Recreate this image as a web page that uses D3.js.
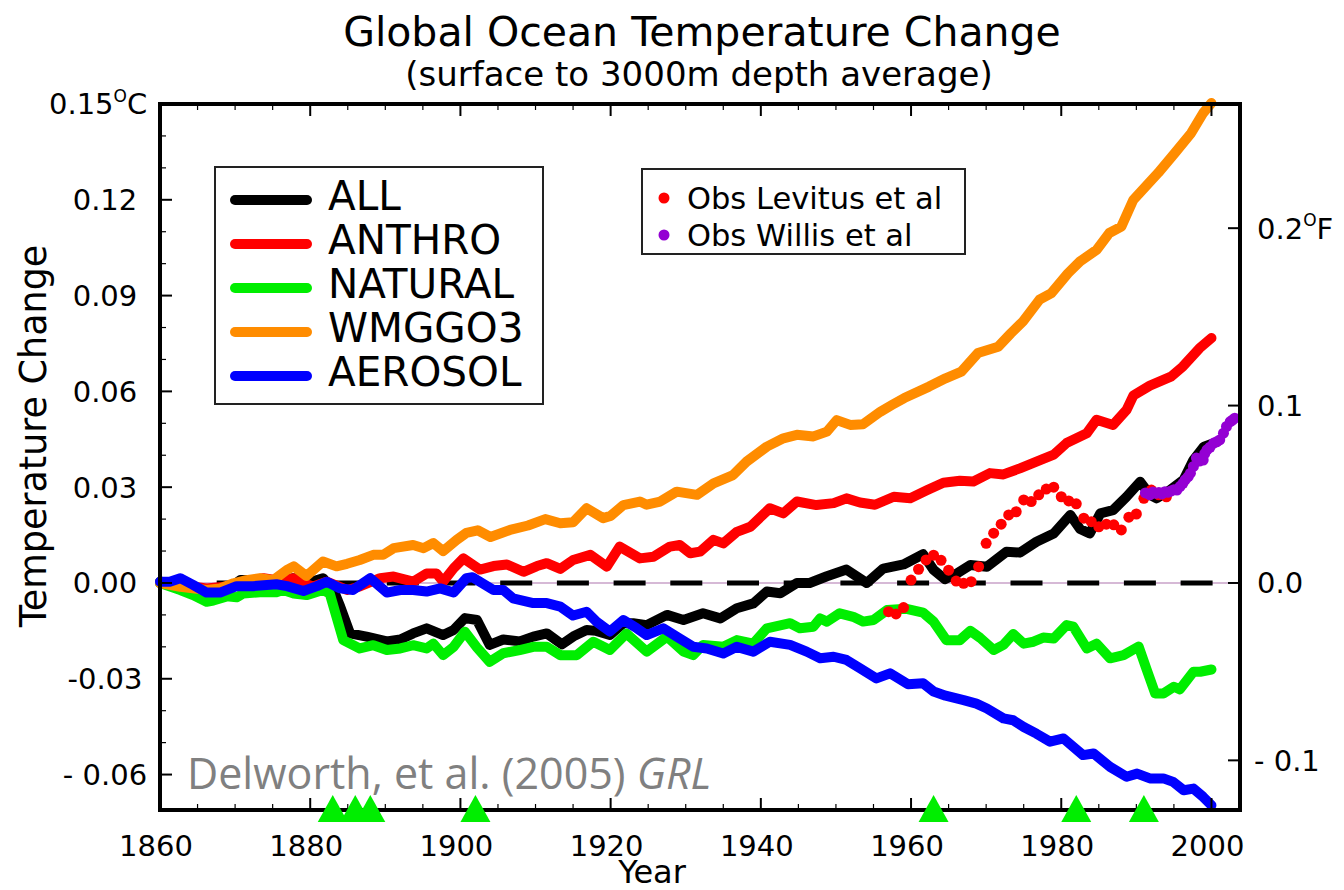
<!DOCTYPE html>
<html><head><meta charset="utf-8">
<script src="https://cdn.jsdelivr.net/npm/d3@7"></script>
<style>
body{margin:0;background:#fff;}
svg{display:block;font-family:"DejaVu Sans",sans-serif;}
</style>
</head><body>
<svg id="chart" width="1344" height="890"></svg>
<script>
// ---------------- data ----------------
const seriesNames = ["ALL", "ANTHRO", "NATURAL", "WMGGO3", "AEROSOL"];
const obsNames = ["Obs Levitus et al", "Obs Willis et al"];

const allValues = [[1860,0.0004],[1862.7,-0.0001],[1864.5,-0.0017],[1866.2,-0.0032],[1868.9,-0.0022],[1870.7,0.0009],[1872.4,0.0009],[1874.2,0.0004],[1876,0.0004],[1877.8,0.0015],[1879.5,-0.0001],[1881.7,0.0015],[1883.1,-0.0022],[1884,-0.0074],[1885.3,-0.0158],[1887.5,-0.0168],[1890.2,-0.0183],[1892,-0.0177],[1893.7,-0.0158],[1895.5,-0.0142],[1897.7,-0.0163],[1899.1,-0.0147],[1900.6,-0.011],[1902.2,-0.0116],[1903.9,-0.0194],[1905.7,-0.0177],[1907.9,-0.0183],[1909.7,-0.0168],[1911.5,-0.0158],[1913.5,-0.0192],[1915.2,-0.0165],[1916.8,-0.0147],[1918.1,-0.015],[1919.9,-0.0163],[1921.7,-0.0126],[1923,-0.0126],[1924.8,-0.0132],[1927.5,-0.01],[1929.7,-0.0116],[1932.3,-0.0095],[1934.6,-0.0111],[1936.8,-0.0079],[1939,-0.0064],[1940.8,-0.0027],[1942.6,-0.0032],[1944.8,0],[1946.5,0],[1948.8,0.0021],[1951.4,0.0042],[1954.1,0],[1956.3,0.0045],[1959,0.0058],[1961.6,0.009],[1963,0.0041],[1964.5,0.0012],[1966.1,0.003],[1967.9,0.0056],[1970.1,0.0051],[1972.7,0.0098],[1974.5,0.0095],[1976.7,0.0129],[1979,0.0155],[1981.2,0.0213],[1982.5,0.0169],[1983.8,0.0155],[1985.2,0.0218],[1986.9,0.0228],[1988.7,0.027],[1990.5,0.0317],[1991.8,0.0276],[1992.7,0.0265],[1994.5,0.0291],[1996.3,0.0323],[1997.6,0.0385],[1999,0.0427],[2000,0.0435]];

const anthroValues = [[1860,0],[1862.7,-0.0006],[1866.2,-0.0017],[1868.9,-0.0011],[1871.1,0.0004],[1873.8,0.0015],[1875.5,0.0009],[1877.8,0.0015],[1879.1,-0.0001],[1880.4,-0.0011],[1882.2,0.0004],[1884.9,-0.0022],[1886.6,-0.0011],[1889.3,0.0015],[1891.1,0.002],[1893.7,0.0004],[1895.5,0.003],[1896.8,0.003],[1897.7,0.0004],[1899.1,0.0046],[1900.4,0.0077],[1902.6,0.0042],[1904.4,0.0053],[1906.2,0.0058],[1908.4,0.0035],[1910.2,0.0053],[1911.5,0.0062],[1913.3,0.0044],[1915,0.0072],[1917.3,0.0088],[1919.5,0.0051],[1921.2,0.0114],[1923.9,0.0077],[1925.7,0.0082],[1927.9,0.0114],[1929.2,0.0119],[1930.6,0.0093],[1931.9,0.0098],[1933.7,0.0135],[1935,0.0124],[1936.8,0.016],[1938.6,0.0176],[1941.2,0.0234],[1943,0.0218],[1944.8,0.0255],[1947.4,0.0244],[1949.7,0.025],[1951.4,0.0265],[1953.2,0.0252],[1955.2,0.0245],[1957.7,0.027],[1959.9,0.0265],[1962.1,0.029],[1964.3,0.0314],[1966.5,0.032],[1968.3,0.0318],[1970.5,0.0344],[1972.3,0.034],[1974.5,0.0359],[1976.7,0.038],[1979,0.0402],[1980.7,0.0438],[1983.4,0.0469],[1984.7,0.0511],[1986.9,0.0495],[1988.7,0.0542],[1989.6,0.0587],[1991.8,0.0618],[1994.6,0.0646],[1996.2,0.0678],[1998.4,0.0735],[2000,0.0767]];

const naturalValues = [[1860,0],[1862.7,-0.0022],[1864.4,-0.0038],[1866.2,-0.0059],[1867.1,-0.0055],[1868.9,-0.0042],[1870.2,-0.0045],[1871.1,-0.0033],[1873.3,-0.0029],[1875.5,-0.0029],[1876.4,-0.0022],[1877.8,-0.0033],[1879.5,-0.0038],[1881.7,-0.0022],[1882.6,-0.0033],[1883.5,-0.0106],[1884.4,-0.0179],[1886.6,-0.0205],[1888.4,-0.0195],[1890.2,-0.021],[1892,-0.0205],[1893.7,-0.0195],[1895.5,-0.0205],[1896.4,-0.019],[1897.7,-0.0226],[1899.1,-0.02],[1900.6,-0.0153],[1902.2,-0.0202],[1903.9,-0.0247],[1905.7,-0.022],[1907.9,-0.021],[1909.7,-0.02],[1911.5,-0.02],[1913.3,-0.0226],[1915.5,-0.0226],[1917.7,-0.0184],[1919.9,-0.021],[1922.1,-0.0158],[1924.8,-0.0215],[1927.5,-0.0168],[1929.7,-0.0215],[1931,-0.0226],[1932.3,-0.0194],[1935,-0.02],[1936.8,-0.0179],[1939,-0.019],[1940.8,-0.0142],[1943.9,-0.0126],[1945.2,-0.0142],[1947,-0.0137],[1947.9,-0.0111],[1948.8,-0.0121],[1950.5,-0.0095],[1952.3,-0.0106],[1953.6,-0.0121],[1955,-0.0116],[1956.8,-0.0085],[1959.4,-0.0081],[1961.6,-0.0093],[1963,-0.0121],[1964.7,-0.0179],[1966.5,-0.0179],[1967.9,-0.015],[1969.2,-0.0172],[1971,-0.021],[1972.3,-0.0194],[1973.6,-0.016],[1975,-0.019],[1976.3,-0.0184],[1977.6,-0.0171],[1979,-0.0174],[1980.7,-0.0132],[1981.6,-0.0137],[1983.4,-0.0205],[1984.7,-0.019],[1986.5,-0.0236],[1988.3,-0.0226],[1990.3,-0.0199],[1991.4,-0.0273],[1992.5,-0.0346],[1993.6,-0.0346],[1995,-0.0325],[1995.8,-0.0333],[1997.6,-0.0278],[1998.5,-0.0278],[2000,-0.0271]];

const wmggo3Values = [[1860,0],[1862.7,-0.0012],[1864.4,-0.0017],[1866.2,-0.0022],[1868,-0.0017],[1869.8,-0.0001],[1871.5,0.0009],[1873.3,0.0015],[1875.1,0.0009],[1876.9,0.0041],[1877.8,0.0052],[1879.5,0.0022],[1881.7,0.0067],[1883.5,0.0052],[1884.9,0.006],[1886.6,0.0072],[1888.4,0.0088],[1889.7,0.0088],[1891.1,0.0109],[1893.7,0.0119],[1895.1,0.0109],[1896.4,0.0125],[1897.7,0.01],[1899.5,0.0135],[1900.8,0.0157],[1902.3,0.0165],[1904,0.0144],[1906.6,0.0166],[1909,0.018],[1911.3,0.02],[1913.3,0.0187],[1915,0.019],[1916.8,0.0234],[1919,0.0203],[1920,0.021],[1921.7,0.0244],[1923.9,0.0255],[1924.8,0.0245],[1926.6,0.0255],[1928.8,0.0286],[1931.5,0.0276],[1933.7,0.0312],[1936.3,0.0338],[1938.1,0.038],[1940.8,0.0427],[1943,0.0453],[1944.8,0.0464],[1947,0.0459],[1948.8,0.0474],[1950.1,0.051],[1951.9,0.0495],[1953.6,0.0497],[1955.9,0.0536],[1957.5,0.0558],[1959.1,0.0579],[1962.4,0.0615],[1964.6,0.0641],[1966.7,0.0662],[1968.9,0.072],[1971.6,0.074],[1973.3,0.0782],[1974.9,0.0819],[1977.1,0.0887],[1978.7,0.0908],[1980.9,0.097],[1982.5,0.1007],[1984.7,0.1043],[1986.4,0.1096],[1988,0.1116],[1989.6,0.12],[1992.9,0.1284],[1995.1,0.1346],[1997.3,0.1409],[1998.9,0.1472],[2000,0.1503]];

const aerosolValues = [[1860,0.0004],[1861.3,0.0004],[1862.7,0.0015],[1864.4,-0.0006],[1866.2,-0.003],[1868,-0.003],[1870.2,-0.001],[1872.4,-0.001],[1875.5,-0.0004],[1876.9,-0.001],[1879.1,-0.0025],[1880.9,-0.001],[1882.2,0.0004],[1884,-0.0017],[1885.7,-0.0022],[1888,0.0015],[1890.2,-0.003],[1892,-0.0022],[1893.7,-0.0022],[1895.5,-0.0027],[1897.3,-0.0017],[1899.1,-0.003],[1900.8,0.0015],[1901.6,0.0018],[1904.4,-0.0022],[1905.7,-0.0022],[1907,-0.0048],[1909.7,-0.0063],[1911.5,-0.0063],[1913.3,-0.0074],[1915,-0.0102],[1916.8,-0.009],[1918.1,-0.0121],[1919.9,-0.0152],[1921.7,-0.0116],[1923.5,-0.0142],[1924.8,-0.0163],[1927,-0.0142],[1929.2,-0.0174],[1931,-0.02],[1932.8,-0.0205],[1935,-0.0221],[1936.8,-0.02],[1939,-0.0215],[1941.2,-0.0184],[1943.9,-0.0194],[1946.1,-0.0215],[1947.9,-0.0236],[1949.7,-0.0231],[1951.4,-0.0241],[1953.2,-0.0267],[1955.4,-0.0299],[1957.2,-0.0283],[1959.6,-0.0317],[1961.6,-0.0314],[1963,-0.034],[1964.6,-0.0353],[1967,-0.0367],[1968.7,-0.0378],[1970.1,-0.0393],[1972.3,-0.0424],[1973.6,-0.043],[1975,-0.0451],[1976.7,-0.0472],[1978.5,-0.0497],[1980.3,-0.0487],[1982.9,-0.0539],[1984.3,-0.0534],[1986.5,-0.0576],[1988.7,-0.0607],[1990.1,-0.0597],[1991.8,-0.0612],[1993.6,-0.0612],[1994.9,-0.0623],[1996.3,-0.0649],[1997.6,-0.0644],[1998.9,-0.067],[2000,-0.0696]];

const levitusObs = [[1957,-0.009],[1958,-0.0097],[1959,-0.0077],[1960,0.0009],[1961,0.0043],[1962,0.0072],[1963,0.0087],[1964,0.0071],[1965,0.004],[1966,0.0006],[1967,-0.0001],[1968,0.0004],[1969,0.0051],[1970,0.0124],[1971,0.0156],[1972,0.0184],[1973,0.0213],[1974,0.0223],[1975,0.026],[1976,0.0255],[1977,0.0276],[1978,0.0294],[1979,0.03],[1980,0.027],[1981,0.0257],[1982,0.0248],[1983,0.0203],[1984,0.0192],[1985,0.0176],[1986,0.0184],[1987,0.0182],[1988,0.0166],[1989,0.0206],[1990,0.0216],[1991,0.0265],[1992,0.0291],[1993,0.0276],[1994,0.027]];

const willisObs = [[1991.2,0.0282],[1991.8,0.0276],[1992.2,0.0285],[1992.6,0.0281],[1993,0.0283],[1993.4,0.0279],[1993.8,0.0286],[1994.2,0.0284],[1994.6,0.0288],[1995,0.0292],[1995.4,0.0291],[1995.8,0.0302],[1996.2,0.0312],[1996.5,0.0323],[1996.9,0.0333],[1997.2,0.0344],[1997.6,0.0365],[1998,0.0391],[1998.4,0.0382],[1998.9,0.0385],[1999.1,0.0405],[1999.4,0.0417],[1999.8,0.0425],[2000.3,0.0438],[2000.7,0.0442],[2001.1,0.0448],[2001.6,0.0469],[2002,0.049],[2002.5,0.0505],[2002.8,0.051],[2003.1,0.0516]];

const volcanoYears = [1883, 1886, 1888, 1902, 1963, 1982, 1991];

const xTickYears = [1860, 1880, 1900, 1920, 1940, 1960, 1980, 2000];
const xMinorYears = d3.range(1865, 2001, 5);
const yTicksC = [-0.06, -0.03, 0, 0.03, 0.06, 0.09, 0.12];
const yTickLabelsC = ["- 0.06", "-0.03", "0.00", "0.03", "0.06", "0.09", "0.12"];
const yMinorC = [-0.05,-0.04,-0.02,-0.01,0.01,0.02,0.04,0.05,0.07,0.08,0.10,0.11,0.13,0.14];
const yTicksF = [-0.1, 0, 0.1, 0.2];
const yTickLabelsF = ["- 0.1", "0.0", "0.1", "0.2"];

// ---------------- styles ----------------
const colors = {ALL:"#000000", ANTHRO:"#ff0000", NATURAL:"#00ee00", WMGGO3:"#ff8c00", AEROSOL:"#0000ff"};
const obsColors = ["#ff0000", "#9400d3"];
const seriesData = {ALL: allValues, ANTHRO: anthroValues, NATURAL: naturalValues, WMGGO3: wmggo3Values, AEROSOL: aerosolValues};

const svg = d3.select("#chart");
const L = 160, R = 1240, T = 104, B = 810;

const x = d3.scaleLinear().domain([1860, 2003.8]).range([L, R]);
const y = d3.scaleLinear().domain([-0.0711, 0.15]).range([B, T]);
const yF = d3.scaleLinear().domain([-0.0711 * 1.8, 0.15 * 1.8]).range([B, T]);

// Titles
svg.append("text").attr("x", 702).attr("y", 46).attr("text-anchor", "middle")
  .attr("font-size", 41).text("Global Ocean Temperature Change");
svg.append("text").attr("x", 699).attr("y", 86).attr("text-anchor", "middle")
  .attr("font-size", 34).text("(surface to 3000m depth average)");

// zero reference lines
svg.append("line").attr("x1", L).attr("x2", R).attr("y1", y(0)).attr("y2", y(0))
  .attr("stroke", "#c8a2c8").attr("stroke-width", 1.5);
svg.append("line").attr("x1", x(1860)).attr("x2", x(2000.5)).attr("y1", y(0)).attr("y2", y(0))
  .attr("stroke", "#000").attr("stroke-width", 5).attr("stroke-dasharray", "32 24.7");

// citation
const cite = svg.append("text").attr("x", 187).attr("y", 789).attr("font-size", 43)
  .attr("fill", "#808080").style("font-family", "'Open Sans', sans-serif");
cite.append("tspan").text("Delworth, et al. (2005) ");
cite.append("tspan").attr("font-style", "italic").text("GRL");

// series lines
const line = d3.line().x(d => x(d[0])).y(d => y(d[1]));
seriesNames.forEach(name => {
  svg.append("path").datum(seriesData[name]).attr("d", line)
    .attr("fill", "none").attr("stroke", colors[name]).attr("stroke-width", 10)
    .attr("stroke-linejoin", "round").attr("stroke-linecap", "round");
});

// observations
svg.append("g").selectAll("circle").data(levitusObs).join("circle")
  .attr("cx", d => x(d[0])).attr("cy", d => y(d[1])).attr("r", 5.5).attr("fill", obsColors[0]);
svg.append("g").selectAll("circle").data(willisObs).join("circle")
  .attr("cx", d => x(d[0])).attr("cy", d => y(d[1])).attr("r", 5.5).attr("fill", obsColors[1]);

// axes ticks (inward)
const gAx = svg.append("g").attr("stroke", "#000");
function tick(x1, y1, x2, y2, w) {
  gAx.append("line").attr("x1", x1).attr("y1", y1).attr("x2", x2).attr("y2", y2).attr("stroke-width", w);
}
xTickYears.forEach(v => { tick(x(v), B, x(v), B - 12, 2); tick(x(v), T, x(v), T + 12, 2); });
xMinorYears.filter(v => !xTickYears.includes(v)).forEach(v => { tick(x(v), B, x(v), B - 6, 1.2); tick(x(v), T, x(v), T + 6, 1.2); });
yTicksC.forEach(v => tick(L, y(v), L + 12, y(v), 2));
yMinorC.forEach(v => tick(L, y(v), L + 6, y(v), 1.2));
yTicksF.forEach(v => tick(R, yF(v), R - 12, yF(v), 2));

// frame
svg.append("rect").attr("x", L).attr("y", T).attr("width", R - L).attr("height", B - T)
  .attr("fill", "none").attr("stroke", "#000").attr("stroke-width", 4);

// volcano triangles
svg.append("g").selectAll("path").data(volcanoYears).join("path")
  .attr("d", d => `M${x(d) - 15},${B + 12} L${x(d)},${B - 15} L${x(d) + 15},${B + 12} Z`)
  .attr("fill", "#00ee00");

// tick labels
svg.append("g").selectAll("text").data(xTickYears).join("text")
  .attr("x", d => x(d) - 4).attr("y", 856).attr("text-anchor", "middle").attr("font-size", 29)
  .text(d => d);
svg.append("g").selectAll("text").data(yTicksC).join("text")
  .attr("x", 105).attr("y", d => y(d)).attr("dy", "0.36em").attr("text-anchor", "middle")
  .attr("font-size", 29).text((d, i) => yTickLabelsC[i]);
// top label 0.15 °C
const topLab = svg.append("text").attr("x", 49).attr("y", y(0.15)).attr("dy", "0.36em").attr("font-size", 29);
topLab.append("tspan").text("0.15");
topLab.append("tspan").attr("font-size", 17).attr("dy", "-0.75em").text("O");
topLab.append("tspan").attr("dy", "0.44em").text("C");

svg.append("g").selectAll("text").data(yTicksF).join("text")
  .attr("x", (d, i) => yTickLabelsF[i].startsWith("-") ? 1254 : 1257)
  .attr("y", d => yF(d)).attr("dy", "0.36em").attr("font-size", 29)
  .each(function(d, i) {
    const t = d3.select(this);
    t.append("tspan").text(yTickLabelsF[i]);
    if (d === 0.2) {
      t.append("tspan").attr("font-size", 17).attr("dy", "-0.75em").text("O");
      t.append("tspan").attr("dy", "0.44em").text("F");
    }
  });

// axis titles
svg.append("text").attr("x", 652).attr("y", 883).attr("text-anchor", "middle").attr("font-size", 32).text("Year");
svg.append("text").attr("transform", "translate(46,436) rotate(-90)").attr("text-anchor", "middle")
  .attr("font-size", 36.5).text("Temperature Change");

// main legend
const lg = svg.append("g");
lg.append("rect").attr("x", 215).attr("y", 167).attr("width", 328).attr("height", 237)
  .attr("fill", "#fff").attr("stroke", "#222").attr("stroke-width", 2);
seriesNames.forEach((name, i) => {
  const ly = 200 + i * 44;
  lg.append("line").attr("x1", 235).attr("x2", 307).attr("y1", ly).attr("y2", ly)
    .attr("stroke", colors[name]).attr("stroke-width", 10).attr("stroke-linecap", "round");
  lg.append("text").attr("x", 328).attr("y", ly + 9.5).attr("font-size", 40.5).text(name);
});

// obs legend
const og = svg.append("g");
og.append("rect").attr("x", 642).attr("y", 169).attr("width", 323).attr("height", 85)
  .attr("fill", "#fff").attr("stroke", "#222").attr("stroke-width", 2);
obsNames.forEach((name, i) => {
  const oy = 198 + i * 37;
  og.append("circle").attr("cx", 664).attr("cy", oy).attr("r", 5.5).attr("fill", obsColors[i]);
  og.append("text").attr("x", 687).attr("y", oy + 10.5).attr("font-size", 30.5).text(name);
});
</script>
</body></html>
